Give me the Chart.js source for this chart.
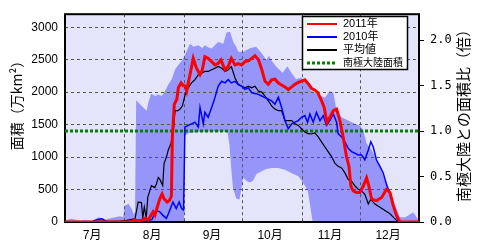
<!DOCTYPE html>
<html>
<head>
<meta charset="utf-8">
<script src="https://cdn.jsdelivr.net/npm/chart.js@4.4.0/dist/chart.umd.min.js"></script>
<style>
  html, body { margin: 0; padding: 0; background: #fff; }
</style>
</head>
<body>
<canvas id="js-ozone-chart" width="486" height="251"></canvas>
<script>
"use strict";
{
  // 月ラベル (7/1 = 0日目)
  const MONTH_LABELS = ["7月", "8月", "9月", "10月", "11月", "12月"];
  const MONTH_STARTS = [0, 31, 62, 92, 123, 153];
  const MONTH_LABEL_DAYS = [14, 45, 76, 106, 137, 167];
  const DAY_MAX = 183;
  const AREA_MAX = 3200;
  const AREA_TICKS = [0, 500, 1000, 1500, 2000, 2500, 3000];
  const RATIO_TICKS = [0, 0.5, 1.0, 1.5, 2.0];
  const CONTINENT_AREA = 1400; // 南極大陸面積 (万km2)

  // 2011年
  const days2011 = [0, 34, 36, 38, 40.4, 41.5, 43, 45.5, 46.5, 47.4, 49, 50.2, 51.2, 52.8, 54, 55, 55.5, 56.5, 57.8, 58.6, 60, 61.2, 62, 62.9, 64.6, 66.3, 68, 69.8, 71, 72.3, 74, 75.8, 77.5, 79.2, 80.6, 82.7, 84.4, 86, 87.9, 89.6, 91.3, 93, 94.8, 96.5, 98.2, 100, 101.7, 103.4, 105.1, 106.8, 108.5, 110.3, 112, 113.7, 115.4, 117.2, 118.9, 120.6, 122.3, 124, 125.7, 127.4, 129.2, 130.6, 132.3, 134, 135.4, 136.9, 138.7, 140.4, 142.1, 143.8, 145.5, 146.8, 147.8, 149, 150.7, 152.4, 154.2, 155.9, 157.1, 158.5, 161, 163.7, 166.2, 168, 169.7, 171.4, 173.1, 183];
  const area2011 = [0, 0, 30, 20, 30, 60, 30, 156, 105, 200, 358, 433, 358, 307, 332, 400, 1310, 1814, 1890, 2066, 2142, 2100, 2100, 2016, 2268, 2520, 2369, 2268, 2344, 2545, 2520, 2470, 2419, 2444, 2495, 2344, 2400, 2520, 2419, 2440, 2419, 2470, 2480, 2520, 2560, 2500, 2350, 2167, 2120, 2190, 2200, 2140, 2110, 2080, 2040, 2080, 2120, 2150, 2170, 2190, 2130, 2060, 2030, 1996, 1890, 1764, 1537, 1613, 1714, 1739, 1562, 1310, 1008, 857, 554, 479, 454, 454, 554, 680, 554, 353, 328, 378, 504, 454, 252, 100, 0, 0];

  // 2010年
  const days2010 = [0, 14, 15, 17, 19, 20.7, 22, 40, 43, 45, 47, 49, 50.5, 52.4, 53.5, 55.8, 57.5, 59, 60.3, 61.3, 62, 63.7, 65.4, 67.2, 68.9, 69.8, 71.5, 72.3, 74, 75.8, 77.5, 79.2, 81, 82.7, 84.4, 86, 87.9, 89.6, 91.3, 93, 94.8, 96.5, 98.2, 100, 101.7, 103.4, 105.1, 106.8, 108.5, 110.3, 112, 113.7, 115.4, 117.2, 118.9, 120.6, 122.3, 124, 125.4, 126.6, 128.3, 130, 131.8, 133.5, 135.2, 136.9, 138.7, 140.4, 141.2, 143, 144.7, 146.4, 148.1, 149.9, 151.6, 153.3, 155, 156.8, 158.1, 159.3, 161, 162.8, 164.5, 166.2, 168, 169.7, 171.4, 172.3, 183];
  const area2010 = [0, 0, 20, 40, 50, 20, 0, 0, 20, 40, 181, 156, 106, 55, 130, 307, 207, 307, 207, 181, 1462, 1487, 1512, 1537, 1462, 1764, 1512, 1688, 1613, 1764, 1915, 2092, 2167, 2142, 2192, 2142, 2167, 2117, 2092, 2041, 2066, 1991, 1980, 1965, 1940, 1915, 1890, 1865, 1814, 1920, 1764, 1562, 1436, 1512, 1537, 1562, 1613, 1638, 1537, 1663, 1537, 1688, 1562, 1638, 1487, 1562, 1663, 1537, 1361, 1310, 1235, 1134, 1084, 1058, 1033, 1033, 958, 1109, 1235, 1159, 958, 857, 756, 580, 428, 252, 100, 0, 0];

  // 平均値
  const daysAvg = [0, 10, 20, 28, 31.9, 34.5, 36.2, 37.8, 39.5, 40.2, 41, 42, 42.8, 44.7, 46.4, 47.3, 48.2, 49, 50.5, 51.2, 52.5, 53.4, 54.8, 56, 56.9, 58.3, 59.5, 60.7, 62, 63.7, 65.4, 67.2, 68.9, 70.6, 72.3, 74, 75.8, 77.5, 79.2, 81, 82.7, 84.4, 86, 87.9, 89.6, 91.3, 93, 94.8, 96.5, 98.2, 100, 101.7, 103.4, 105.1, 106.8, 108.5, 110.3, 112, 113.7, 115.4, 117.2, 118.9, 120.6, 122.3, 124, 125.7, 127.4, 129.2, 130.9, 132.6, 134.3, 136, 137.8, 139.5, 141.2, 143, 144.7, 146.4, 148.1, 149.9, 151.6, 153.3, 155, 156.8, 158.1, 160.2, 162.8, 165.4, 168, 169.7, 171.4, 173.1, 183];
  const areaAvg = [0, 5, 10, 10, 25, 40, 50, 307, 300, 60, 231, 60, 383, 560, 530, 590, 685, 660, 560, 900, 1008, 1109, 1210, 1411, 1714, 1714, 1739, 1789, 1950, 2066, 2142, 2192, 2268, 2293, 2318, 2318, 2344, 2369, 2394, 2369, 2318, 2344, 2394, 2218, 2117, 2092, 2066, 2092, 2066, 2092, 2016, 2000, 1940, 1865, 1789, 1739, 1714, 1714, 1562, 1562, 1562, 1512, 1487, 1436, 1386, 1361, 1355, 1371, 1310, 1235, 1159, 1084, 1008, 907, 857, 832, 756, 655, 630, 554, 504, 479, 428, 277, 353, 277, 227, 176, 126, 76, 25, 0, 0];

  // 過去の最大値
  const daysMax = [0, 3, 5, 8, 10, 13, 15, 17, 19, 21, 24, 26, 28.5, 30, 31, 32.8, 34.5, 35.5, 36.2, 36.8, 38.8, 40.5, 42.2, 43.1, 44.5, 46.6, 48.3, 50, 51.7, 53.4, 55.2, 56.9, 58.6, 60.3, 62, 64.6, 66.5, 68.9, 71, 72.3, 74, 75.8, 77.5, 79.2, 81.8, 83.5, 85.3, 87, 88.5, 89.6, 92.2, 95.6, 98.8, 101.7, 104, 105.5, 107, 109, 112.5, 115, 117, 119.5, 122, 124, 127.4, 130.9, 134.3, 136.9, 138.7, 140.4, 143, 146.4, 149.9, 152.4, 154.2, 155.9, 158.5, 161.9, 165.4, 168.8, 171.4, 173.1, 175.7, 177.4, 180, 182, 183];
  const areaMax = [25, 50, 40, 20, 30, 15, 20, 70, 60, 40, 60, 75, 90, 75, 250, 280, 200, 120, 150, 1875, 1814, 1764, 1714, 1840, 1976, 1940, 1965, 1940, 2016, 2117, 2200, 2350, 2420, 2480, 2570, 2745, 2700, 2720, 2680, 2720, 2690, 2670, 2720, 2770, 2745, 2920, 2930, 2770, 2700, 2620, 2620, 2676, 2700, 2600, 2500, 2555, 2480, 2400, 2300, 2400, 2300, 2197, 2220, 2170, 2016, 1965, 1915, 2016, 1990, 1714, 1613, 1562, 1512, 1487, 1411, 1210, 1109, 907, 655, 403, 202, 76, 70, 100, 150, 60, 30];

  // 過去の最小値
  const daysMin = [0, 61.5, 62, 64, 70, 78, 84, 85, 85.9, 86.8, 88.5, 90.2, 91, 92, 93.7, 95.5, 97.2, 99, 100.7, 104, 107, 110.3, 113.7, 117, 120.6, 122, 124, 125.5, 126.5, 128, 183];
  const areaMin = [0, 0, 1330, 1370, 1390, 1395, 1390, 1194, 836, 534, 363, 348, 484, 685, 634, 610, 634, 740, 766, 817, 830, 832, 806, 756, 706, 650, 560, 480, 300, 0, 0];

  // 南極大陸面積 (比 1.0)
  const continentDays = [0, DAY_MAX];
  const continentRatio = [1.0, 1.0];

  const toPoints = (days, values) => days.map((d, i) => ({ x: d, y: values[i] }));

  const CJK = "'Liberation Sans', 'Noto Sans CJK JP', sans-serif";

  // プロット領域の背景 (塗りより先に描く)
  const plotBackground = {
    id: "plotBackground",
    beforeDraw(chart) {
      const { ctx, chartArea: a } = chart;
      ctx.save();
      ctx.fillStyle = "#e4e4fa";
      ctx.fillRect(a.left, a.top, a.right - a.left, a.bottom - a.top);
      ctx.restore();
    },
  };
  // filler を背景のあとに並べ直す
  const filler = Chart.registry.getPlugin("filler");
  Chart.unregister(filler);
  Chart.register(plotBackground, filler);

  const framePlugin = {
    id: "frame",
    beforeDatasetsDraw(chart) {
      const { ctx, chartArea: a } = chart;
      ctx.save();
      ctx.strokeStyle = "#000";
      ctx.lineWidth = 2;
      ctx.strokeRect(a.left, a.top, a.right - a.left, a.bottom - a.top);
      ctx.restore();
    },
  };

  const titlePlugin = {
    id: "axisTitles",
    afterDraw(chart) {
      const ctx = chart.ctx;
      ctx.save();
      ctx.fillStyle = "#000";
      ctx.textAlign = "center";
      ctx.textBaseline = "middle";
      ctx.font = "14px 'Noto Sans CJK JP'";
      ctx.translate(17, 102);
      ctx.rotate(-Math.PI / 2);
      ctx.fillText("面積（万km²）", 0, 0);
      ctx.restore();

      ctx.save();
      ctx.fillStyle = "#000";
      ctx.textAlign = "center";
      ctx.textBaseline = "middle";
      ctx.font = "15px 'Noto Sans CJK JP'";
      ctx.translate(463, 112);
      ctx.rotate(-Math.PI / 2);
      ctx.fillText("南極大陸との面積比（倍）", 0, 0);
      ctx.restore();
    },
  };

  // 枠付きの凡例
  const boxLegend = {
    id: "boxLegend",
    afterDraw(chart) {
      const ctx = chart.ctx;
      const items = chart.data.datasets.slice(0, 4);
      ctx.save();
      ctx.fillStyle = "#fff";
      ctx.fillRect(302, 16, 106, 54);
      ctx.strokeStyle = "#000";
      ctx.lineWidth = 1.5;
      ctx.strokeRect(302.5, 16.5, 105, 53);
      items.forEach((ds, i) => {
        const y = 24 + i * 13;
        ctx.beginPath();
        ctx.strokeStyle = ds.borderColor;
        ctx.lineWidth = i === 3 ? 3 : 2;
        ctx.setLineDash(ds.borderDash || []);
        ctx.moveTo(307, y);
        ctx.lineTo(337, y);
        ctx.stroke();
        ctx.setLineDash([]);
        ctx.fillStyle = "#000";
        ctx.font = (i === 3 ? "10px " : "11px ") + CJK;
        ctx.textBaseline = "middle";
        ctx.textAlign = "left";
        ctx.fillText(ds.label, 343, y);
      });
      ctx.restore();
    },
  };

  const ctx = document.getElementById("js-ozone-chart").getContext("2d");
  new Chart(ctx, {
    type: "line",
    data: {
      datasets: [
        { label: "2011年", data: toPoints(days2011, area2011), borderColor: "#ff0000", borderWidth: 3, yAxisID: "y" },
        { label: "2010年", data: toPoints(days2010, area2010), borderColor: "#0000ff", borderWidth: 1.5, yAxisID: "y" },
        { label: "平均値", data: toPoints(daysAvg, areaAvg), borderColor: "#000000", borderWidth: 1.2, yAxisID: "y" },
        { label: "南極大陸面積", data: toPoints(continentDays, continentRatio), borderColor: "#008000", borderWidth: 3, borderDash: [3, 2], yAxisID: "y2" },
        { label: "最大", data: toPoints(daysMax, areaMax), borderColor: "rgba(0,0,0,0)", borderWidth: 1, fill: "+1", backgroundColor: "#9696fa", yAxisID: "y" },
        { label: "最小", data: toPoints(daysMin, areaMin), borderColor: "rgba(0,0,0,0)", borderWidth: 1, fill: false, yAxisID: "y" },
      ],
    },
    options: {
      responsive: false,
      animation: false,
      events: [],
      layout: { padding: { top: 10, left: 0, right: 0, bottom: 0 } },
      elements: {
        point: { radius: 0 },
        line: { tension: 0 },
      },
      scales: {
        x: {
          type: "linear",
          min: 0,
          max: DAY_MAX,
          afterBuildTicks: (scale) => {
            const vals = MONTH_STARTS.slice(1).concat(MONTH_LABEL_DAYS).sort((a, b) => a - b);
            scale.ticks = vals.map((v) => ({ value: v }));
          },
          afterFit: (scale) => { scale.height = 29; },
          grid: {
            drawTicks: false,
            color: (c) => (c.tick && MONTH_STARTS.includes(c.tick.value) ? "#555" : "rgba(0,0,0,0)"),
            lineWidth: 1,
          },
          border: { display: false, dash: [3, 3] },
          ticks: {
            autoSkip: false,
            maxRotation: 0,
            minRotation: 0,
            padding: 6,
            color: "#000",
            font: { size: 12, family: CJK },
            callback: (value) => {
              const i = MONTH_LABEL_DAYS.indexOf(value);
              return i >= 0 ? MONTH_LABELS[i] : "";
            },
          },
        },
        y: {
          position: "left",
          min: 0,
          max: AREA_MAX,
          afterBuildTicks: (scale) => {
            scale.ticks = AREA_TICKS.map((v) => ({ value: v }));
          },
          afterFit: (scale) => { scale.width = 65; },
          grid: { drawTicks: false, color: "#555", lineWidth: 1 },
          border: { display: false, dash: [3, 3] },
          ticks: {
            padding: 7,
            color: "#000",
            font: { size: 12, family: "'Liberation Sans', sans-serif" },
            callback: (value) => String(value),
          },
        },
        y2: {
          position: "right",
          min: 0,
          max: AREA_MAX / CONTINENT_AREA,
          afterBuildTicks: (scale) => {
            scale.ticks = RATIO_TICKS.map((v) => ({ value: v }));
          },
          afterFit: (scale) => { scale.width = 67; },
          grid: { drawOnChartArea: false, drawTicks: true, tickLength: 5, color: "#000", lineWidth: 1 },
          border: { display: false },
          ticks: {
            padding: 6,
            color: "#000",
            font: { size: 12, family: "'DejaVu Sans Mono', monospace" },
            callback: (value) => value.toFixed(1),
          },
        },
      },
      plugins: {
        legend: { display: false },
        tooltip: { enabled: false },
        filler: { drawTime: "beforeDraw" },
      },
    },
    plugins: [framePlugin, titlePlugin, boxLegend],
  });
}
</script>
</body>
</html>
